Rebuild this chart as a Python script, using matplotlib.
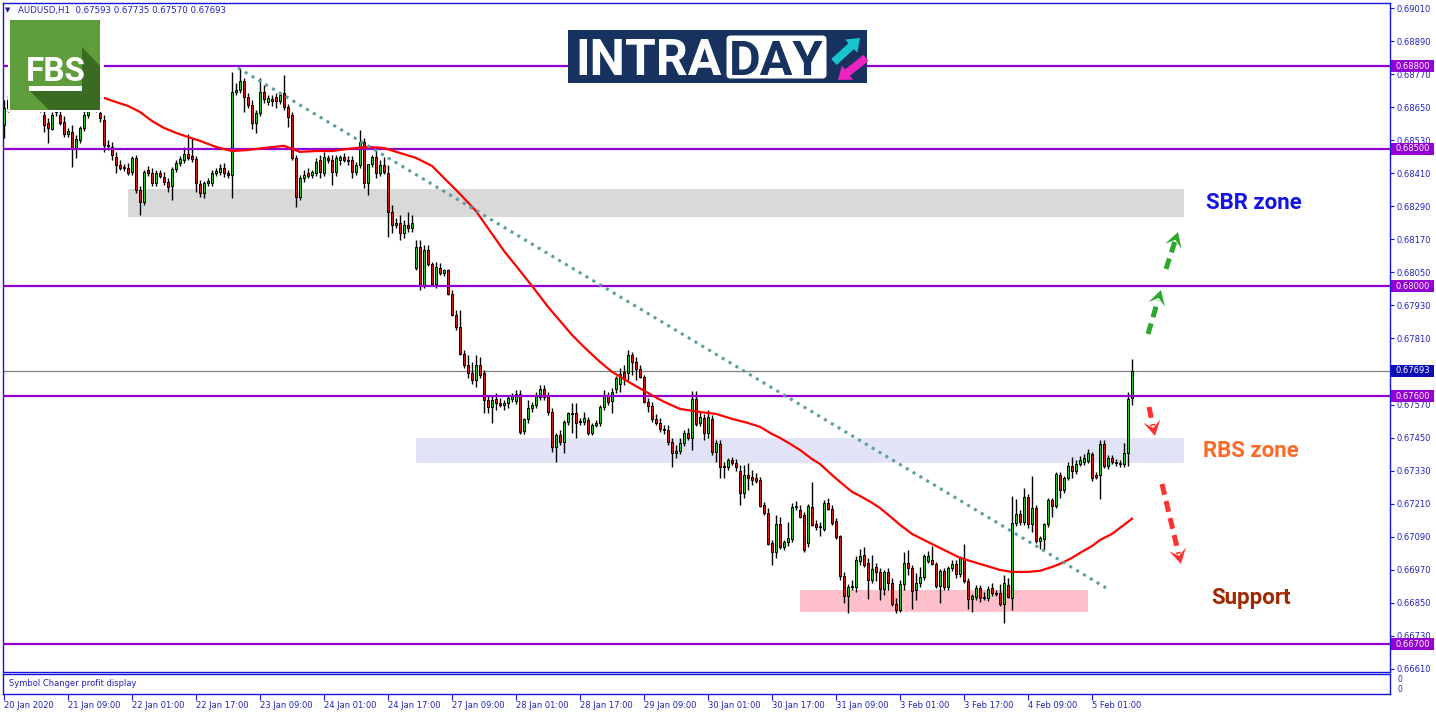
import numpy as np
import matplotlib
matplotlib.use("Agg")
import matplotlib.pyplot as plt
from matplotlib.patches import Rectangle, Polygon, FancyBboxPatch, FancyArrow
from matplotlib.transforms import blended_transform_factory

# ---- AUDUSD H1, 20 Jan 17:00 .. 5 Feb 11:00 (one entry per bar) ----
symbol, timeframe = "AUDUSD", "H1"

opens = [
    0.68586, 0.68647, 0.68677, 0.68695, 0.68684, 0.68706, 0.68691, 0.68677, 0.68698, 0.68662,
    0.68622, 0.68593, 0.68571, 0.68633, 0.68622, 0.68597, 0.68553, 0.68560, 0.68502, 0.68531,
    0.68575, 0.68622, 0.68658, 0.68669, 0.68629, 0.68604, 0.68513, 0.68506, 0.68469, 0.68440,
    0.68429, 0.68429, 0.68415, 0.68466, 0.68350, 0.68306, 0.68422, 0.68411, 0.68375, 0.68411,
    0.68397, 0.68379, 0.68364, 0.68426, 0.68448, 0.68459, 0.68480, 0.68473, 0.68462, 0.68371,
    0.68339, 0.68375, 0.68375, 0.68411, 0.68415, 0.68429, 0.68411, 0.68404, 0.68706, 0.68713,
    0.68746, 0.68688, 0.68658, 0.68593, 0.68629, 0.68706, 0.68669, 0.68680, 0.68688, 0.68673,
    0.68702, 0.68651, 0.68622, 0.68466, 0.68324, 0.68393, 0.68411, 0.68404, 0.68411, 0.68459,
    0.68411, 0.68466, 0.68459, 0.68415, 0.68459, 0.68469, 0.68459, 0.68459, 0.68415, 0.68440,
    0.68524, 0.68375, 0.68444, 0.68469, 0.68411, 0.68440, 0.68411, 0.68270, 0.68222, 0.68230,
    0.68193, 0.68222, 0.68211, 0.68066, 0.68142, 0.68001, 0.68132, 0.68081, 0.68008, 0.68066,
    0.68048, 0.68059, 0.67972, 0.67896, 0.67852, 0.67754, 0.67714, 0.67685, 0.67659, 0.67714,
    0.67685, 0.67587, 0.67561, 0.67590, 0.67576, 0.67568, 0.67576, 0.67590, 0.67583, 0.67608,
    0.67474, 0.67518, 0.67558, 0.67568, 0.67597, 0.67627, 0.67601, 0.67543, 0.67416, 0.67460,
    0.67434, 0.67507, 0.67536, 0.67539, 0.67510, 0.67507, 0.67514, 0.67467, 0.67496, 0.67503,
    0.67561, 0.67605, 0.67583, 0.67627, 0.67645, 0.67689, 0.67685, 0.67750, 0.67725, 0.67700,
    0.67670, 0.67579, 0.67565, 0.67518, 0.67503, 0.67481, 0.67478, 0.67434, 0.67394, 0.67401,
    0.67430, 0.67467, 0.67449, 0.67590, 0.67503, 0.67521, 0.67467, 0.67518, 0.67398, 0.67427,
    0.67347, 0.67343, 0.67369, 0.67358, 0.67329, 0.67249, 0.67314, 0.67307, 0.67303, 0.67296,
    0.67205, 0.67176, 0.67067, 0.67035, 0.67136, 0.67053, 0.67071, 0.67082, 0.67198, 0.67187,
    0.67169, 0.67067, 0.67198, 0.67136, 0.67125, 0.67118, 0.67213, 0.67191, 0.67147, 0.67093,
    0.66947, 0.66875, 0.66907, 0.66907, 0.67002, 0.67024, 0.66994, 0.66933, 0.66980, 0.66962,
    0.66900, 0.66962, 0.66922, 0.66845, 0.66824, 0.66918, 0.66995, 0.66976, 0.66896, 0.66922,
    0.66944, 0.67002, 0.67005, 0.66991, 0.66911, 0.66965, 0.66907, 0.66976, 0.66991, 0.66954,
    0.67013, 0.66929, 0.66864, 0.66871, 0.66904, 0.66867, 0.66867, 0.66904, 0.66886, 0.66886,
    0.66845, 0.66915, 0.66867, 0.67140, 0.67173, 0.67144, 0.67234, 0.67136, 0.67194, 0.67075,
    0.67082, 0.67136, 0.67223, 0.67202, 0.67314, 0.67260, 0.67303, 0.67347, 0.67329, 0.67354,
    0.67362, 0.67365, 0.67391, 0.67314, 0.67314, 0.67427, 0.67347, 0.67376, 0.67362, 0.67358,
    0.67354, 0.67394, 0.67593,
]
highs = [
    0.68677, 0.68695, 0.68713, 0.68731, 0.68720, 0.68735, 0.68720, 0.68713, 0.68727, 0.68691,
    0.68662, 0.68611, 0.68633, 0.68669, 0.68647, 0.68618, 0.68575, 0.68586, 0.68549, 0.68582,
    0.68647, 0.68677, 0.68691, 0.68695, 0.68647, 0.68622, 0.68531, 0.68524, 0.68488, 0.68459,
    0.68444, 0.68447, 0.68473, 0.68477, 0.68364, 0.68422, 0.68437, 0.68429, 0.68422, 0.68422,
    0.68415, 0.68393, 0.68433, 0.68459, 0.68473, 0.68506, 0.68553, 0.68538, 0.68473, 0.68386,
    0.68382, 0.68393, 0.68422, 0.68429, 0.68444, 0.68447, 0.68422, 0.68778, 0.68738, 0.68793,
    0.68757, 0.68702, 0.68677, 0.68640, 0.68757, 0.68731, 0.68695, 0.68695, 0.68702, 0.68706,
    0.68768, 0.68662, 0.68633, 0.68477, 0.68404, 0.68422, 0.68429, 0.68422, 0.68466, 0.68477,
    0.68488, 0.68477, 0.68477, 0.68477, 0.68477, 0.68484, 0.68473, 0.68473, 0.68451, 0.68567,
    0.68538, 0.68440, 0.68477, 0.68495, 0.68459, 0.68469, 0.68440, 0.68295, 0.68248, 0.68259,
    0.68241, 0.68270, 0.68259, 0.68168, 0.68168, 0.68150, 0.68150, 0.68088, 0.68088, 0.68084,
    0.68063, 0.68063, 0.67986, 0.67914, 0.67914, 0.67768, 0.67750, 0.67725, 0.67750, 0.67743,
    0.67696, 0.67605, 0.67601, 0.67612, 0.67594, 0.67587, 0.67605, 0.67612, 0.67623, 0.67623,
    0.67521, 0.67587, 0.67579, 0.67616, 0.67641, 0.67641, 0.67616, 0.67557, 0.67467, 0.67478,
    0.67514, 0.67543, 0.67576, 0.67576, 0.67521, 0.67543, 0.67525, 0.67503, 0.67514, 0.67568,
    0.67623, 0.67616, 0.67630, 0.67674, 0.67703, 0.67714, 0.67768, 0.67761, 0.67743, 0.67714,
    0.67678, 0.67594, 0.67579, 0.67536, 0.67521, 0.67496, 0.67496, 0.67449, 0.67423, 0.67449,
    0.67478, 0.67485, 0.67619, 0.67619, 0.67543, 0.67536, 0.67550, 0.67532, 0.67441, 0.67441,
    0.67362, 0.67376, 0.67380, 0.67372, 0.67351, 0.67351, 0.67358, 0.67332, 0.67321, 0.67307,
    0.67216, 0.67194, 0.67078, 0.67169, 0.67162, 0.67078, 0.67143, 0.67212, 0.67220, 0.67205,
    0.67180, 0.67209, 0.67289, 0.67151, 0.67143, 0.67223, 0.67231, 0.67205, 0.67158, 0.67096,
    0.66962, 0.66918, 0.66933, 0.67020, 0.67045, 0.67053, 0.67013, 0.67024, 0.66994, 0.66976,
    0.66969, 0.66976, 0.66940, 0.66867, 0.66933, 0.67035, 0.67042, 0.66987, 0.66958, 0.66980,
    0.67027, 0.67038, 0.67056, 0.66998, 0.66973, 0.66976, 0.66984, 0.67005, 0.67005, 0.67020,
    0.67064, 0.66940, 0.66882, 0.66915, 0.66915, 0.66889, 0.66911, 0.66922, 0.66896, 0.66918,
    0.66951, 0.66940, 0.67238, 0.67227, 0.67187, 0.67267, 0.67245, 0.67311, 0.67205, 0.67093,
    0.67140, 0.67231, 0.67231, 0.67325, 0.67325, 0.67311, 0.67362, 0.67380, 0.67369, 0.67383,
    0.67391, 0.67409, 0.67398, 0.67325, 0.67441, 0.67441, 0.67387, 0.67387, 0.67372, 0.67369,
    0.67431, 0.67616, 0.67735,
]
lows = [
    0.68538, 0.68633, 0.68655, 0.68666, 0.68655, 0.68677, 0.68662, 0.68647, 0.68662, 0.68633,
    0.68560, 0.68520, 0.68567, 0.68618, 0.68586, 0.68542, 0.68542, 0.68433, 0.68466, 0.68520,
    0.68564, 0.68611, 0.68640, 0.68633, 0.68597, 0.68487, 0.68495, 0.68459, 0.68411, 0.68422,
    0.68418, 0.68404, 0.68404, 0.68339, 0.68259, 0.68295, 0.68400, 0.68364, 0.68364, 0.68393,
    0.68368, 0.68342, 0.68313, 0.68415, 0.68437, 0.68448, 0.68459, 0.68451, 0.68342, 0.68324,
    0.68321, 0.68364, 0.68364, 0.68400, 0.68404, 0.68397, 0.68393, 0.68321, 0.68695, 0.68702,
    0.68633, 0.68647, 0.68571, 0.68557, 0.68618, 0.68666, 0.68658, 0.68655, 0.68647, 0.68662,
    0.68640, 0.68578, 0.68459, 0.68288, 0.68313, 0.68379, 0.68393, 0.68393, 0.68400, 0.68393,
    0.68400, 0.68448, 0.68368, 0.68400, 0.68440, 0.68451, 0.68440, 0.68393, 0.68404, 0.68429,
    0.68357, 0.68331, 0.68433, 0.68393, 0.68400, 0.68408, 0.68179, 0.68193, 0.68211, 0.68168,
    0.68175, 0.68197, 0.68197, 0.68059, 0.67986, 0.67994, 0.68074, 0.68001, 0.67994, 0.68041,
    0.68037, 0.67968, 0.67892, 0.67841, 0.67750, 0.67703, 0.67667, 0.67645, 0.67634, 0.67667,
    0.67539, 0.67539, 0.67503, 0.67550, 0.67561, 0.67550, 0.67558, 0.67579, 0.67572, 0.67463,
    0.67463, 0.67503, 0.67543, 0.67558, 0.67587, 0.67587, 0.67532, 0.67398, 0.67362, 0.67423,
    0.67394, 0.67496, 0.67467, 0.67449, 0.67496, 0.67496, 0.67460, 0.67460, 0.67489, 0.67492,
    0.67550, 0.67568, 0.67539, 0.67612, 0.67616, 0.67641, 0.67659, 0.67678, 0.67659, 0.67667,
    0.67576, 0.67543, 0.67507, 0.67496, 0.67470, 0.67463, 0.67423, 0.67343, 0.67376, 0.67391,
    0.67420, 0.67441, 0.67405, 0.67492, 0.67492, 0.67441, 0.67449, 0.67387, 0.67362, 0.67303,
    0.67303, 0.67332, 0.67351, 0.67329, 0.67205, 0.67231, 0.67260, 0.67278, 0.67285, 0.67198,
    0.67169, 0.67060, 0.66987, 0.67013, 0.67045, 0.67042, 0.67056, 0.67071, 0.67187, 0.67158,
    0.67035, 0.67053, 0.67129, 0.67115, 0.67093, 0.67111, 0.67187, 0.67133, 0.67082, 0.66933,
    0.66849, 0.66813, 0.66896, 0.66889, 0.66987, 0.66980, 0.66864, 0.66922, 0.66929, 0.66860,
    0.66878, 0.66896, 0.66838, 0.66813, 0.66816, 0.66896, 0.66951, 0.66827, 0.66860, 0.66907,
    0.66933, 0.66995, 0.66987, 0.66904, 0.66849, 0.66896, 0.66896, 0.66965, 0.66940, 0.66944,
    0.66922, 0.66827, 0.66816, 0.66860, 0.66853, 0.66860, 0.66856, 0.66875, 0.66875, 0.66838,
    0.66776, 0.66867, 0.66824, 0.67129, 0.67133, 0.67133, 0.67122, 0.67107, 0.67067, 0.67045,
    0.67042, 0.67125, 0.67162, 0.67194, 0.67231, 0.67249, 0.67296, 0.67303, 0.67318, 0.67347,
    0.67351, 0.67358, 0.67293, 0.67300, 0.67227, 0.67340, 0.67336, 0.67354, 0.67347, 0.67343,
    0.67343, 0.67347, 0.67570,
]
closes = [
    0.68647, 0.68677, 0.68695, 0.68684, 0.68706, 0.68691, 0.68677, 0.68698, 0.68669, 0.68640,
    0.68586, 0.68575, 0.68622, 0.68647, 0.68593, 0.68553, 0.68564, 0.68502, 0.68535, 0.68575,
    0.68622, 0.68658, 0.68669, 0.68647, 0.68611, 0.68513, 0.68509, 0.68477, 0.68440, 0.68429,
    0.68433, 0.68411, 0.68466, 0.68350, 0.68306, 0.68415, 0.68411, 0.68375, 0.68411, 0.68400,
    0.68379, 0.68360, 0.68426, 0.68448, 0.68462, 0.68480, 0.68466, 0.68462, 0.68375, 0.68339,
    0.68375, 0.68382, 0.68411, 0.68418, 0.68429, 0.68411, 0.68404, 0.68706, 0.68713, 0.68746,
    0.68688, 0.68658, 0.68593, 0.68629, 0.68706, 0.68680, 0.68684, 0.68673, 0.68673, 0.68695,
    0.68651, 0.68615, 0.68466, 0.68324, 0.68393, 0.68404, 0.68400, 0.68415, 0.68451, 0.68415,
    0.68469, 0.68459, 0.68415, 0.68466, 0.68469, 0.68459, 0.68455, 0.68415, 0.68440, 0.68524,
    0.68375, 0.68444, 0.68469, 0.68411, 0.68440, 0.68415, 0.68270, 0.68222, 0.68230, 0.68193,
    0.68222, 0.68211, 0.68230, 0.68142, 0.68001, 0.68132, 0.68081, 0.68008, 0.68070, 0.68048,
    0.68059, 0.67972, 0.67896, 0.67852, 0.67754, 0.67714, 0.67685, 0.67659, 0.67714, 0.67678,
    0.67587, 0.67561, 0.67587, 0.67576, 0.67568, 0.67576, 0.67594, 0.67601, 0.67608, 0.67471,
    0.67518, 0.67558, 0.67568, 0.67605, 0.67627, 0.67597, 0.67543, 0.67416, 0.67460, 0.67434,
    0.67507, 0.67539, 0.67539, 0.67503, 0.67507, 0.67521, 0.67467, 0.67496, 0.67503, 0.67561,
    0.67605, 0.67579, 0.67616, 0.67667, 0.67681, 0.67667, 0.67750, 0.67725, 0.67700, 0.67670,
    0.67579, 0.67565, 0.67518, 0.67503, 0.67481, 0.67478, 0.67434, 0.67394, 0.67401, 0.67430,
    0.67467, 0.67449, 0.67590, 0.67499, 0.67525, 0.67467, 0.67525, 0.67398, 0.67431, 0.67343,
    0.67343, 0.67369, 0.67358, 0.67343, 0.67249, 0.67314, 0.67303, 0.67296, 0.67293, 0.67202,
    0.67176, 0.67064, 0.67035, 0.67136, 0.67053, 0.67071, 0.67085, 0.67198, 0.67202, 0.67162,
    0.67042, 0.67202, 0.67133, 0.67125, 0.67129, 0.67213, 0.67191, 0.67140, 0.67089, 0.66947,
    0.66875, 0.66907, 0.66911, 0.67005, 0.67020, 0.66987, 0.66933, 0.66973, 0.66962, 0.66900,
    0.66962, 0.66922, 0.66845, 0.66824, 0.66918, 0.66995, 0.66976, 0.66893, 0.66922, 0.66944,
    0.67020, 0.67020, 0.66991, 0.66911, 0.66965, 0.66907, 0.66976, 0.66991, 0.66954, 0.67013,
    0.66929, 0.66864, 0.66875, 0.66904, 0.66867, 0.66871, 0.66900, 0.66886, 0.66882, 0.66845,
    0.66922, 0.66871, 0.67140, 0.67173, 0.67144, 0.67234, 0.67136, 0.67194, 0.67075, 0.67085,
    0.67136, 0.67223, 0.67202, 0.67318, 0.67260, 0.67303, 0.67347, 0.67329, 0.67354, 0.67369,
    0.67376, 0.67394, 0.67303, 0.67307, 0.67427, 0.67347, 0.67376, 0.67362, 0.67358, 0.67354,
    0.67394, 0.67590, 0.67693,
]

# moving average, bar index / price
ma_bar = [25, 28, 31, 34, 37, 40, 43, 46, 49, 53, 57, 61, 65, 70, 72, 74, 78, 82, 86, 91,
          95, 99, 103, 107, 110, 114, 118, 122, 125, 128, 132, 136, 139, 142, 145, 149,
          152, 157, 161, 165, 169, 174, 178, 182, 186, 189, 192, 194, 197, 199, 202, 204,
          207, 209, 212, 214, 217, 219, 222, 224, 227, 229, 234, 239, 244, 249, 252, 256,
          259, 262, 264, 267, 269, 272, 274, 277, 279, 282]
ma_price = [0.68684, 0.68669, 0.68655, 0.68633, 0.68600, 0.68575, 0.68557, 0.68542, 0.68528,
            0.68506, 0.68491, 0.68495, 0.68502, 0.68510, 0.68499, 0.68488, 0.68491, 0.68491,
            0.68499, 0.68506, 0.68502, 0.68484, 0.68466, 0.68437, 0.68393, 0.68335, 0.68273,
            0.68190, 0.68128, 0.68074, 0.68001, 0.67925, 0.67874, 0.67823, 0.67779, 0.67725,
            0.67689, 0.67645, 0.67612, 0.67580, 0.67554, 0.67543, 0.67536, 0.67518, 0.67503,
            0.67489, 0.67463, 0.67449, 0.67423, 0.67405, 0.67372, 0.67354, 0.67314, 0.67289,
            0.67253, 0.67238, 0.67213, 0.67194, 0.67158, 0.67133, 0.67100, 0.67085, 0.67049,
            0.67013, 0.66991, 0.66969, 0.66962, 0.66962, 0.66966, 0.66980, 0.66991, 0.67013,
            0.67031, 0.67056, 0.67078, 0.67100, 0.67122, 0.67155]

# trend line
trend_bar = [58.5, 275.5]
trend_price = [0.68793, 0.66904]

# horizontal levels
levels = [0.68800, 0.68500, 0.68000, 0.67600, 0.66700]

# zones: SBR, RBS, support
zone_start = [31, 103, 199]
zone_end = [295, 295, 271]
zone_low = [0.68251, 0.67358, 0.66816]
zone_high = [0.68353, 0.67449, 0.66896]
zone_names = ["SBR zone", "RBS zone", "Support"]

price_ticks = [0.66610, 0.66730, 0.66850, 0.66970, 0.67090, 0.67210, 0.67330, 0.67450,
               0.67570, 0.67690, 0.67810, 0.67930, 0.68050, 0.68170, 0.68290, 0.68410,
               0.68530, 0.68650, 0.68770, 0.68890, 0.69010]

time_ticks = [0, 16, 32, 48, 64, 80, 96, 112, 128, 144, 160, 176, 192, 208, 224, 240, 256, 272]
time_labels = ["20 Jan 2020", "21 Jan 09:00", "22 Jan 01:00", "22 Jan 17:00", "23 Jan 09:00",
               "24 Jan 01:00", "24 Jan 17:00", "27 Jan 09:00", "28 Jan 01:00", "28 Jan 17:00",
               "29 Jan 09:00", "30 Jan 01:00", "30 Jan 17:00", "31 Jan 09:00", "3 Feb 01:00",
               "3 Feb 17:00", "4 Feb 09:00", "5 Feb 01:00"]

# ---- styling ----
W, H = 1436, 716
PURPLE = "#9400d3"
TXT = "#2222c0"
FRAME = "#1414dc"
UP = "#22c822"
DOWN = "#d81414"
Y_BOT, Y_TOP = 0.665983, 0.690289

fig = plt.figure(figsize=(W / 100, H / 100), dpi=100)


def box(x0, y0, x1, y1):
    return [x0 / W, 1 - y1 / H, (x1 - x0) / W, (y1 - y0) / H]


ax = fig.add_axes(box(3, 3, 1390, 672))
sub = fig.add_axes(box(3, 674, 1390, 694))
ov = fig.add_axes([0, 0, 1, 1], zorder=10)

o, h, l, c = map(np.array, (opens, highs, lows, closes))
x = np.arange(len(o))
up = c >= o

ax.set_xlim(-0.25, 346.5)
ax.set_ylim(Y_BOT, Y_TOP)

# zones
zone_colors = ["#d9d9d9", "#e3e3f7", "#ffc0cb"]
for k0, k1, lo, hi, col in zip(zone_start, zone_end, zone_low, zone_high, zone_colors):
    ax.add_patch(Rectangle((k0, lo), k1 - k0, hi - lo, fc=col, ec="none", zorder=0.5))

# current price line
ax.axhline(c[-1], color="#808080", lw=0.9, zorder=1)

# candles
ax.vlines(x, l, h, color="black", lw=1.0, zorder=3)
body_lo = np.minimum(o, c)
body_h = np.maximum(np.abs(c - o), 0.000008)
ax.bar(x, body_h, bottom=body_lo, width=0.62, color=np.where(up, UP, DOWN),
       edgecolor="black", linewidth=0.7, zorder=4)

# levels, MA, trendline
for lv in levels:
    ax.axhline(lv, color=PURPLE, lw=1.6, zorder=5)
ax.plot(ma_bar, ma_price, color="#ff0000", lw=1.6, zorder=6, solid_joinstyle="round")
ax.plot(trend_bar, trend_price, color="#5f9ea0", lw=2.2, dashes=(1.0, 1.6),
        dash_capstyle="butt", zorder=6)

# right price scale
ax.yaxis.tick_right()
ax.set_yticks(price_ticks)
ax.set_yticklabels([f"{t:.5f}" for t in price_ticks])
ax.tick_params(axis="y", direction="out", length=3, width=0.8, color=FRAME,
               labelsize=6, labelcolor=TXT, pad=2)
ax.tick_params(axis="x", bottom=False, labelbottom=False)
for sp in ax.spines.values():
    sp.set_color(FRAME)
    sp.set_linewidth(1)

tr = blended_transform_factory(ax.transAxes, ax.transData)
px_per_price = 669 / (Y_TOP - Y_BOT)


def price_tag(p, fc):
    ax.add_patch(Rectangle((1.0008, p - 6 / px_per_price), 43 / 1387, 12 / px_per_price,
                           transform=tr, fc=fc, ec="none", clip_on=False, zorder=7))
    ax.text(1.0008 + 4 / 1387, p, f"{p:.5f}", transform=tr, fontsize=6, color="white",
            va="center", ha="left", clip_on=False, zorder=8)


for lv in levels:
    price_tag(lv, PURPLE)
price_tag(c[-1], "#0c0cb4")

# sub window + time scale
sub.set_xlim(-0.25, 346.5)
sub.set_ylim(0, 1)
sub.set_yticks([])
sub.set_xticks(time_ticks)
sub.set_xticklabels(time_labels, ha="left")
sub.tick_params(axis="x", direction="out", length=4, width=0.8, color=FRAME,
                labelsize=6, labelcolor=TXT, pad=1)
for sp in sub.spines.values():
    sp.set_color(FRAME)
    sp.set_linewidth(1)
sub.text(0.004, 0.5, "Symbol Changer profit display", transform=sub.transAxes,
         fontsize=6, color=TXT, va="center")

# ---- overlay in pixel coordinates ----
ov.set_xlim(0, W)
ov.set_ylim(H, 0)
ov.axis("off")
ov.patch.set_alpha(0)

ov.text(5, 10, "\u25bc", fontsize=5, color="#1c1c9c", va="center")
ov.text(18, 10, f"{symbol},{timeframe}  {o[-1]:.5f} {h[-1]:.5f} {l[-1]:.5f} {c[-1]:.5f}",
        fontsize=6.2, color=TXT, va="center")
ov.text(1397, 680, "0", fontsize=5.5, color=TXT, va="center")
ov.text(1397, 689, "0", fontsize=5.5, color=TXT, va="center")

# FBS logo
ov.add_patch(Rectangle((8, 18), 96, 94, fc="white", ec="none", zorder=1))
ov.add_patch(Rectangle((10, 20), 90, 90, fc="#5e9c3c", ec="none", zorder=2))
ov.add_patch(Polygon([(30, 91), (82, 91), (82, 47), (100, 66), (100, 110), (49, 110)],
                     closed=True, fc="#3b6b22", ec="none", zorder=3))
ov.text(55.5, 81, "FBS", fontsize=24, fontweight="bold", family="Roboto", color="white",
        ha="center", va="baseline", zorder=4)
ov.add_patch(Rectangle((29, 86), 53, 5, fc="white", ec="none", zorder=4))

# INTRADAY logo
NAVY = "#17325e"
ov.add_patch(Rectangle((568, 30), 299, 53, fc=NAVY, ec="none", zorder=2))
ov.text(575, 75, "INTRA", fontsize=36, fontweight="bold", family="Roboto", color="white",
        va="baseline", zorder=3)
ov.add_patch(FancyBboxPatch((728, 37), 97, 40, boxstyle="round,pad=1.5,rounding_size=4",
                            fc="white", ec="none", zorder=3))
ov.text(776, 75, "DAY", fontsize=35, fontweight="bold", family="Roboto", color=NAVY,
        ha="center", va="baseline", zorder=4)
ov.add_patch(FancyArrow(834, 62, 26, -24, width=8, head_width=18, head_length=12,
                        length_includes_head=True, fc="#18c4ce", ec="none", zorder=4))
ov.add_patch(FancyArrow(866, 58, -28, 22, width=8, head_width=18, head_length=12,
                        length_includes_head=True, fc="#ee22c0", ec="none", zorder=4))


def dash_arrow(tail, tip, color):
    t = np.array(tail, float)
    p = np.array(tip, float)
    d = (p - t) / np.hypot(*(p - t))
    n = np.array([-d[1], d[0]])
    hl, hw = 15, 8.5
    base = p - hl * d
    end = p - 0.7 * hl * d
    ov.plot([t[0], end[0]], [t[1], end[1]], color=color, lw=3.6, dashes=(2.2, 1.3),
            dash_capstyle="butt", zorder=5)
    head = [p, base + hw * n, p - 0.55 * hl * d, base - hw * n]
    ov.add_patch(Polygon(head, closed=True, fc=color, ec="none", zorder=6))


dash_arrow((1148, 334), (1161, 290), "#2ca82c")
dash_arrow((1166, 269), (1178, 232), "#2ca82c")
dash_arrow((1149, 407), (1155, 436), "#ff3232")
dash_arrow((1162, 484), (1181, 564), "#ff3232")

label_pos = [(1206, 203), (1203, 451), (1211, 598)]
label_colors = ["#1414e6", "#ff6a28", "#a02800"]
for name, (lx, ly), col in zip(zone_names, label_pos, label_colors):
    ov.text(lx, ly, name, fontsize=16, fontweight="bold", family="Roboto", color=col,
            va="center", ha="left", zorder=6)

fig.savefig("out.png", dpi=100)
